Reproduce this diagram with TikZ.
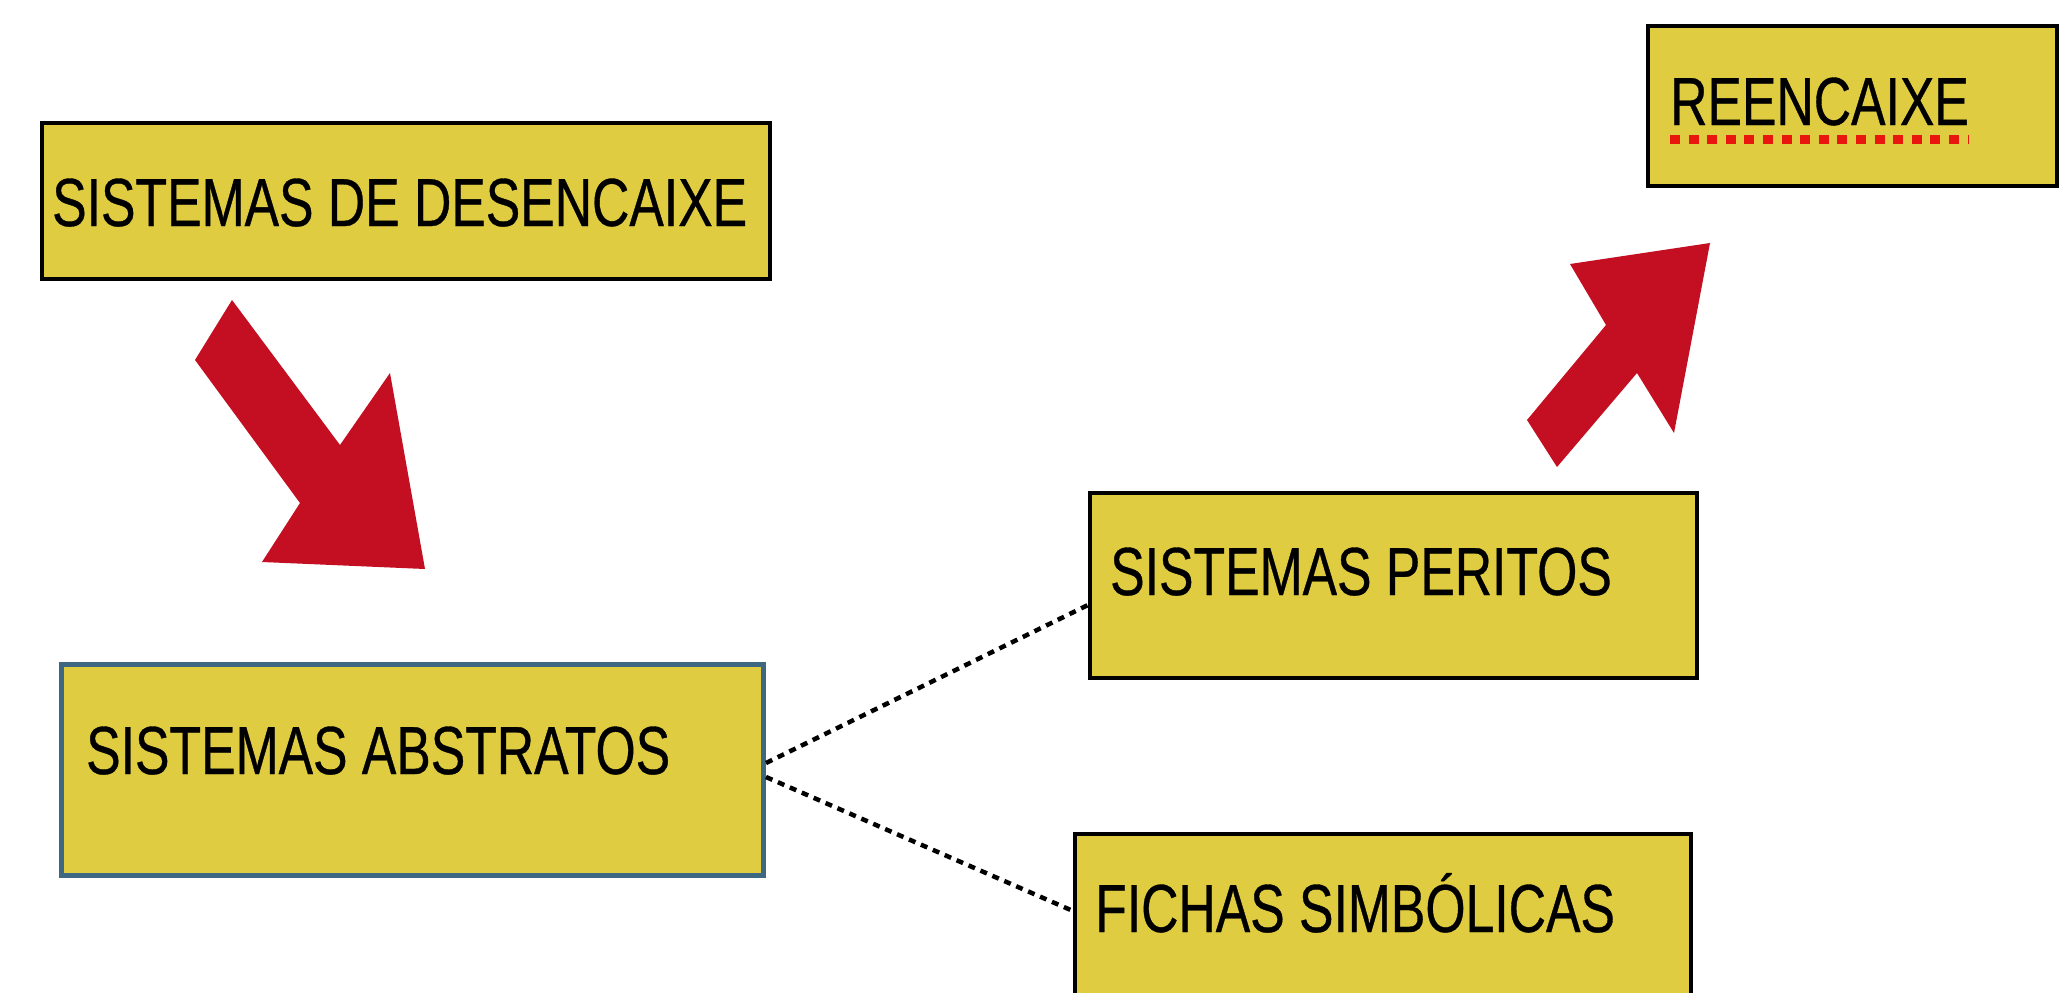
\documentclass[tikz,border=0pt]{standalone}
\usepackage{fontspec}
\setmainfont{Liberation Sans}[FakeStretch=0.76,FakeBold=0.5]
\definecolor{boxyellow}{RGB}{224,204,64}
\definecolor{arrowred}{RGB}{196,14,34}
\definecolor{absborder}{RGB}{62,104,130}
\definecolor{dotred}{RGB}{232,22,12}
\begin{document}
\begin{tikzpicture}[x=1pt,y=-1pt,
  box/.style={draw=black, line width=4pt, fill=boxyellow, rectangle, inner sep=0pt, anchor=north west},
  lbl/.style={anchor=base west, inner sep=0pt, font=\fontsize{68}{68}\selectfont, text=black},
  link/.style={line width=4.5pt, dash pattern=on 7pt off 6pt},
  bigarrow/.style={fill=arrowred, draw=none}]
\useasboundingbox (0,0) rectangle (2065,993);
\clip (0,0) rectangle (2065,993);
\fill[white] (0,0) rectangle (2065,993);

% boxes
\node[box, minimum width=728pt, minimum height=156pt] (des) at (40,121) {};
\node[box, draw=absborder, line width=5pt, minimum width=702pt, minimum height=211pt] (abs) at (59,662) {};
\node[box, minimum width=607pt, minimum height=185pt] (per) at (1088,491) {};
\node[box, minimum width=616pt, minimum height=220pt] (fich) at (1073,832) {};
\node[box, minimum width=409pt, minimum height=160pt] (reen) at (1646,24) {};

% labels
\node[lbl] (destxt) at (52,226) {SISTEMAS DE DESENCAIXE};
\node[lbl] (abstxt) at (86,774) {SISTEMAS ABSTRATOS};
\node[lbl] (pertxt) at (1110,595) {SISTEMAS PERITOS};
\node[lbl] (fichtxt) at (1095,932) {FICHAS SIMBÓLICAS};
\node[lbl] (reentxt) at (1670,125) {REENCAIXE};
\draw[dotred, line width=9pt, dash pattern=on 10pt off 8.6pt]
  ([yshift=-14pt]reentxt.base west) -- ([yshift=-14pt]reentxt.base east);

% dotted connectors
\draw[link] ([yshift=7pt]abs.east) -- ([yshift=-19.5pt]per.west);
\draw[link] ([yshift=-7pt]abs.east) -- ([yshift=-79pt]fich.north west);

% block arrows
\fill[bigarrow] (232,300) -- (340,445) -- (390,373) -- (425,569) -- (262,562) -- (300,503) -- (195,360) -- cycle;
\fill[bigarrow] (1710,243) -- (1570,264) -- (1606,325) -- (1527,420) -- (1557,467) -- (1637,373) -- (1674,433) -- cycle;
\end{tikzpicture}
\end{document}
